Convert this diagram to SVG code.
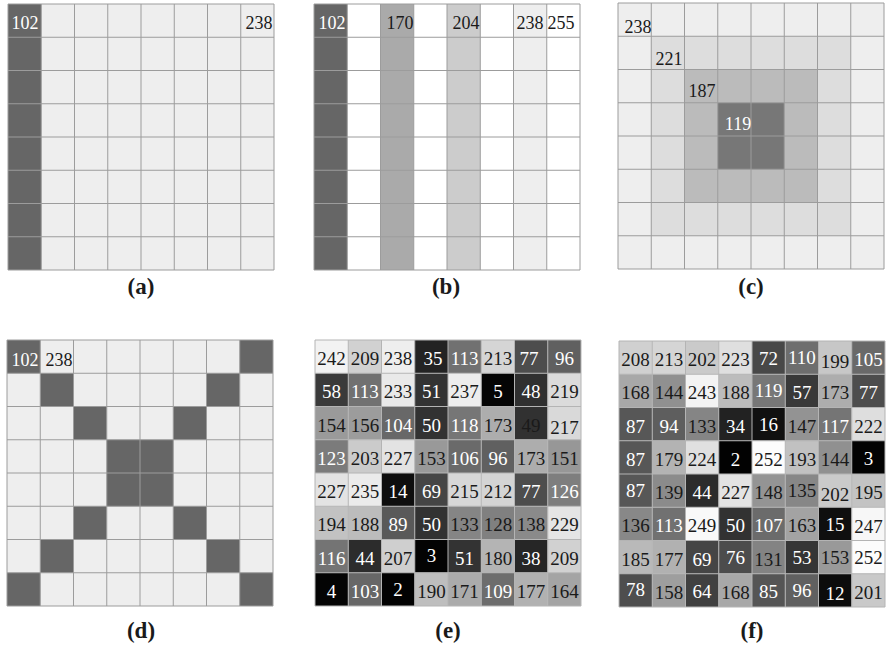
<svg xmlns="http://www.w3.org/2000/svg" xmlns:xlink="http://www.w3.org/1999/xlink" width="889" height="647" viewBox="0 0 889 647">
<style>
.n{font-family:"Liberation Serif","Times New Roman",serif;font-size:19px;text-anchor:middle}
.s{font-size:18px}
.w{fill:#ffffff}
.k{fill:#1a1a1a}
.lbl{font-family:"Liberation Serif","Times New Roman",serif;font-size:23px;font-weight:bold;text-anchor:middle;fill:#1a1a1a}
.g{fill:none;stroke:#9c9c9c;stroke-width:1}
.g2{fill:none;stroke:#b4b4b4;stroke-width:1}
</style>
<defs>
<path id="grid" d="M0 0H266M0 33.25H266M0 66.5H266M0 99.75H266M0 133H266M0 166.25H266M0 199.5H266M0 232.75H266M0 266H266M0 0V266M33.25 0V266M66.5 0V266M99.75 0V266M133 0V266M166.25 0V266M199.5 0V266M232.75 0V266M266 0V266"/>
</defs>
<rect width="889" height="647" fill="#ffffff"/>

<g id="panel-a" transform="translate(8,4)">
<rect width="266" height="266" fill="#eeeeee"/>
<rect width="33.25" height="266" fill="#666666"/>
<use href="#grid" class="g"/>
<text class="n s w" x="17" y="25">102</text>
<text class="n s k" x="251" y="25">238</text>
</g>

<g id="panel-b" transform="translate(314,4)">
<rect width="266" height="266" fill="#ffffff"/>
<rect width="33.25" height="266" fill="#666666"/>
<rect x="66.5" width="33.25" height="266" fill="#aaaaaa"/>
<rect x="133" width="33.25" height="266" fill="#cccccc"/>
<rect x="199.5" width="33.25" height="266" fill="#eeeeee"/>
<use href="#grid" class="g"/>
<text class="n s w" x="18" y="25">102</text>
<text class="n s k" x="86" y="25">170</text>
<text class="n s k" x="152" y="25">204</text>
<text class="n s k" x="216" y="25">238</text>
<text class="n s k" x="247" y="25">255</text>
</g>

<g id="panel-c" transform="translate(618,3)">
<rect width="266" height="266" fill="#eeeeee"/>
<rect x="33.25" y="33.25" width="199.5" height="199.5" fill="#dddddd"/>
<rect x="66.5" y="66.5" width="133" height="133" fill="#bbbbbb"/>
<rect x="99.75" y="99.75" width="66.5" height="66.5" fill="#777777"/>
<use href="#grid" class="g"/>
<text class="n s k" x="20" y="30">238</text>
<text class="n s k" x="51" y="62">221</text>
<text class="n s k" x="84" y="94">187</text>
<text class="n s w" x="120" y="127">119</text>
</g>

<g id="panel-d" transform="translate(7,340)">
<rect width="266" height="266" fill="#eeeeee"/>
<g fill="#666666">
<rect x="0" y="0" width="33.25" height="33.25"/>
<rect x="232.75" y="0" width="33.25" height="33.25"/>
<rect x="33.25" y="33.25" width="33.25" height="33.25"/>
<rect x="199.5" y="33.25" width="33.25" height="33.25"/>
<rect x="66.5" y="66.5" width="33.25" height="33.25"/>
<rect x="166.25" y="66.5" width="33.25" height="33.25"/>
<rect x="99.75" y="99.75" width="66.5" height="66.5"/>
<rect x="66.5" y="166.25" width="33.25" height="33.25"/>
<rect x="166.25" y="166.25" width="33.25" height="33.25"/>
<rect x="33.25" y="199.5" width="33.25" height="33.25"/>
<rect x="199.5" y="199.5" width="33.25" height="33.25"/>
<rect x="0" y="232.75" width="33.25" height="33.25"/>
<rect x="232.75" y="232.75" width="33.25" height="33.25"/>
</g>
<use href="#grid" class="g"/>
<text class="n s w" x="18" y="26">102</text>
<text class="n s k" x="52" y="26">238</text>
</g>

<g id="panel-e" transform="translate(315,340)">
<g>
<rect x="0" y="0" width="33.25" height="33.25" fill="#f2f2f2"/><rect x="33.25" y="0" width="33.25" height="33.25" fill="#d1d1d1"/><rect x="66.5" y="0" width="33.25" height="33.25" fill="#eeeeee"/><rect x="99.75" y="0" width="33.25" height="33.25" fill="#232323"/><rect x="133" y="0" width="33.25" height="33.25" fill="#717171"/><rect x="166.25" y="0" width="33.25" height="33.25" fill="#d5d5d5"/><rect x="199.5" y="0" width="33.25" height="33.25" fill="#4d4d4d"/><rect x="232.75" y="0" width="33.25" height="33.25" fill="#606060"/>
<rect x="0" y="33.25" width="33.25" height="33.25" fill="#3a3a3a"/><rect x="33.25" y="33.25" width="33.25" height="33.25" fill="#717171"/><rect x="66.5" y="33.25" width="33.25" height="33.25" fill="#e9e9e9"/><rect x="99.75" y="33.25" width="33.25" height="33.25" fill="#333333"/><rect x="133" y="33.25" width="33.25" height="33.25" fill="#ededed"/><rect x="166.25" y="33.25" width="33.25" height="33.25" fill="#050505"/><rect x="199.5" y="33.25" width="33.25" height="33.25" fill="#303030"/><rect x="232.75" y="33.25" width="33.25" height="33.25" fill="#dbdbdb"/>
<rect x="0" y="66.5" width="33.25" height="33.25" fill="#9a9a9a"/><rect x="33.25" y="66.5" width="33.25" height="33.25" fill="#9c9c9c"/><rect x="66.5" y="66.5" width="33.25" height="33.25" fill="#686868"/><rect x="99.75" y="66.5" width="33.25" height="33.25" fill="#323232"/><rect x="133" y="66.5" width="33.25" height="33.25" fill="#767676"/><rect x="166.25" y="66.5" width="33.25" height="33.25" fill="#adadad"/><rect x="199.5" y="66.5" width="33.25" height="33.25" fill="#313131"/><rect x="232.75" y="66.5" width="33.25" height="33.25" fill="#d9d9d9"/>
<rect x="0" y="99.75" width="33.25" height="33.25" fill="#7b7b7b"/><rect x="33.25" y="99.75" width="33.25" height="33.25" fill="#cbcbcb"/><rect x="66.5" y="99.75" width="33.25" height="33.25" fill="#e3e3e3"/><rect x="99.75" y="99.75" width="33.25" height="33.25" fill="#999999"/><rect x="133" y="99.75" width="33.25" height="33.25" fill="#6a6a6a"/><rect x="166.25" y="99.75" width="33.25" height="33.25" fill="#606060"/><rect x="199.5" y="99.75" width="33.25" height="33.25" fill="#adadad"/><rect x="232.75" y="99.75" width="33.25" height="33.25" fill="#979797"/>
<rect x="0" y="133" width="33.25" height="33.25" fill="#e3e3e3"/><rect x="33.25" y="133" width="33.25" height="33.25" fill="#ebebeb"/><rect x="66.5" y="133" width="33.25" height="33.25" fill="#0e0e0e"/><rect x="99.75" y="133" width="33.25" height="33.25" fill="#454545"/><rect x="133" y="133" width="33.25" height="33.25" fill="#d7d7d7"/><rect x="166.25" y="133" width="33.25" height="33.25" fill="#d4d4d4"/><rect x="199.5" y="133" width="33.25" height="33.25" fill="#4d4d4d"/><rect x="232.75" y="133" width="33.25" height="33.25" fill="#7e7e7e"/>
<rect x="0" y="166.25" width="33.25" height="33.25" fill="#c2c2c2"/><rect x="33.25" y="166.25" width="33.25" height="33.25" fill="#bcbcbc"/><rect x="66.5" y="166.25" width="33.25" height="33.25" fill="#595959"/><rect x="99.75" y="166.25" width="33.25" height="33.25" fill="#323232"/><rect x="133" y="166.25" width="33.25" height="33.25" fill="#858585"/><rect x="166.25" y="166.25" width="33.25" height="33.25" fill="#808080"/><rect x="199.5" y="166.25" width="33.25" height="33.25" fill="#8a8a8a"/><rect x="232.75" y="166.25" width="33.25" height="33.25" fill="#e5e5e5"/>
<rect x="0" y="199.5" width="33.25" height="33.25" fill="#747474"/><rect x="33.25" y="199.5" width="33.25" height="33.25" fill="#2c2c2c"/><rect x="66.5" y="199.5" width="33.25" height="33.25" fill="#cfcfcf"/><rect x="99.75" y="199.5" width="33.25" height="33.25" fill="#030303"/><rect x="133" y="199.5" width="33.25" height="33.25" fill="#333333"/><rect x="166.25" y="199.5" width="33.25" height="33.25" fill="#b4b4b4"/><rect x="199.5" y="199.5" width="33.25" height="33.25" fill="#262626"/><rect x="232.75" y="199.5" width="33.25" height="33.25" fill="#d1d1d1"/>
<rect x="0" y="232.75" width="33.25" height="33.25" fill="#040404"/><rect x="33.25" y="232.75" width="33.25" height="33.25" fill="#676767"/><rect x="66.5" y="232.75" width="33.25" height="33.25" fill="#020202"/><rect x="99.75" y="232.75" width="33.25" height="33.25" fill="#bebebe"/><rect x="133" y="232.75" width="33.25" height="33.25" fill="#ababab"/><rect x="166.25" y="232.75" width="33.25" height="33.25" fill="#6d6d6d"/><rect x="199.5" y="232.75" width="33.25" height="33.25" fill="#b1b1b1"/><rect x="232.75" y="232.75" width="33.25" height="33.25" fill="#a4a4a4"/>
</g>
<use href="#grid" class="g2"/>
<g class="n">
<text x="16.6" y="25" class="k">242</text><text x="49.9" y="25" class="k">209</text><text x="83.1" y="25" class="k">238</text><text x="118" y="25" class="w">35</text><text x="149.6" y="25" class="w">113</text><text x="182.9" y="25" class="k">213</text><text x="214" y="25" class="w">77</text><text x="249.4" y="25" class="w">96</text>
<text x="16.6" y="58.25" class="w">58</text><text x="49.9" y="58.25" class="w">113</text><text x="83.1" y="58.25" class="k">233</text><text x="116.4" y="58.25" class="w">51</text><text x="149.6" y="58.25" class="k">237</text><text x="182.9" y="58.25" class="w">5</text><text x="216.1" y="58.25" class="w">48</text><text x="249.4" y="58.25" class="k">219</text>
<text x="16.6" y="91.5" class="k">154</text><text x="49.9" y="91.5" class="k">156</text><text x="83.1" y="91.5" class="w">104</text><text x="116.4" y="91.5" class="w">50</text><text x="149.6" y="91.5" class="w">118</text><text x="182.9" y="91.5" class="k">173</text><text x="216.1" y="91.5" class="k">49</text><text x="249.4" y="94" class="k">217</text>
<text x="16.6" y="124.75" class="w">123</text><text x="49.9" y="124.75" class="k">203</text><text x="83.1" y="124.75" class="k">227</text><text x="116.4" y="124.75" class="k">153</text><text x="149.6" y="124.75" class="w">106</text><text x="182.9" y="124.75" class="w">96</text><text x="216.1" y="124.75" class="k">173</text><text x="249.4" y="124.75" class="k">151</text>
<text x="16.6" y="158" class="k">227</text><text x="49.9" y="158" class="k">235</text><text x="83.1" y="158" class="w">14</text><text x="116.4" y="158" class="w">69</text><text x="149.6" y="158" class="k">215</text><text x="182.9" y="158" class="k">212</text><text x="216.1" y="158" class="w">77</text><text x="249.4" y="158" class="w">126</text>
<text x="16.6" y="191.25" class="k">194</text><text x="49.9" y="191.25" class="k">188</text><text x="83.1" y="191.25" class="w">89</text><text x="116.4" y="191.25" class="w">50</text><text x="149.6" y="191.25" class="k">133</text><text x="182.9" y="191.25" class="k">128</text><text x="216.1" y="191.25" class="k">138</text><text x="249.4" y="191.25" class="k">229</text>
<text x="16.6" y="224.5" class="w">116</text><text x="49.9" y="224.5" class="w">44</text><text x="83.1" y="224.5" class="k">207</text><text x="116.4" y="221.5" class="w">3</text><text x="149.6" y="224.5" class="w">51</text><text x="182.9" y="224.5" class="k">180</text><text x="216.1" y="224.5" class="w">38</text><text x="249.4" y="224.5" class="k">209</text>
<text x="16.6" y="257.75" class="w">4</text><text x="49.9" y="257.75" class="w">103</text><text x="83.1" y="255.5" class="w">2</text><text x="116.4" y="257.75" class="k">190</text><text x="149.6" y="257.75" class="k">171</text><text x="182.9" y="257.75" class="w">109</text><text x="216.1" y="257.75" class="k">177</text><text x="249.4" y="257.75" class="k">164</text>
</g>
</g>

<g id="panel-f" transform="translate(619,341)">
<g>
<rect x="0" y="0" width="33.25" height="33.25" fill="#d0d0d0"/><rect x="33.25" y="0" width="33.25" height="33.25" fill="#d5d5d5"/><rect x="66.5" y="0" width="33.25" height="33.25" fill="#cacaca"/><rect x="99.75" y="0" width="33.25" height="33.25" fill="#dfdfdf"/><rect x="133" y="0" width="33.25" height="33.25" fill="#484848"/><rect x="166.25" y="0" width="33.25" height="33.25" fill="#6e6e6e"/><rect x="199.5" y="0" width="33.25" height="33.25" fill="#c7c7c7"/><rect x="232.75" y="0" width="33.25" height="33.25" fill="#696969"/>
<rect x="0" y="33.25" width="33.25" height="33.25" fill="#a8a8a8"/><rect x="33.25" y="33.25" width="33.25" height="33.25" fill="#909090"/><rect x="66.5" y="33.25" width="33.25" height="33.25" fill="#f3f3f3"/><rect x="99.75" y="33.25" width="33.25" height="33.25" fill="#bcbcbc"/><rect x="133" y="33.25" width="33.25" height="33.25" fill="#777777"/><rect x="166.25" y="33.25" width="33.25" height="33.25" fill="#393939"/><rect x="199.5" y="33.25" width="33.25" height="33.25" fill="#adadad"/><rect x="232.75" y="33.25" width="33.25" height="33.25" fill="#4d4d4d"/>
<rect x="0" y="66.5" width="33.25" height="33.25" fill="#575757"/><rect x="33.25" y="66.5" width="33.25" height="33.25" fill="#5e5e5e"/><rect x="66.5" y="66.5" width="33.25" height="33.25" fill="#858585"/><rect x="99.75" y="66.5" width="33.25" height="33.25" fill="#222222"/><rect x="133" y="66.5" width="33.25" height="33.25" fill="#101010"/><rect x="166.25" y="66.5" width="33.25" height="33.25" fill="#939393"/><rect x="199.5" y="66.5" width="33.25" height="33.25" fill="#757575"/><rect x="232.75" y="66.5" width="33.25" height="33.25" fill="#dedede"/>
<rect x="0" y="99.75" width="33.25" height="33.25" fill="#575757"/><rect x="33.25" y="99.75" width="33.25" height="33.25" fill="#b3b3b3"/><rect x="66.5" y="99.75" width="33.25" height="33.25" fill="#e0e0e0"/><rect x="99.75" y="99.75" width="33.25" height="33.25" fill="#020202"/><rect x="133" y="99.75" width="33.25" height="33.25" fill="#fcfcfc"/><rect x="166.25" y="99.75" width="33.25" height="33.25" fill="#c1c1c1"/><rect x="199.5" y="99.75" width="33.25" height="33.25" fill="#909090"/><rect x="232.75" y="99.75" width="33.25" height="33.25" fill="#030303"/>
<rect x="0" y="133" width="33.25" height="33.25" fill="#575757"/><rect x="33.25" y="133" width="33.25" height="33.25" fill="#8b8b8b"/><rect x="66.5" y="133" width="33.25" height="33.25" fill="#2c2c2c"/><rect x="99.75" y="133" width="33.25" height="33.25" fill="#e3e3e3"/><rect x="133" y="133" width="33.25" height="33.25" fill="#949494"/><rect x="166.25" y="133" width="33.25" height="33.25" fill="#878787"/><rect x="199.5" y="133" width="33.25" height="33.25" fill="#cacaca"/><rect x="232.75" y="133" width="33.25" height="33.25" fill="#c3c3c3"/>
<rect x="0" y="166.25" width="33.25" height="33.25" fill="#888888"/><rect x="33.25" y="166.25" width="33.25" height="33.25" fill="#717171"/><rect x="66.5" y="166.25" width="33.25" height="33.25" fill="#f9f9f9"/><rect x="99.75" y="166.25" width="33.25" height="33.25" fill="#323232"/><rect x="133" y="166.25" width="33.25" height="33.25" fill="#6b6b6b"/><rect x="166.25" y="166.25" width="33.25" height="33.25" fill="#a3a3a3"/><rect x="199.5" y="166.25" width="33.25" height="33.25" fill="#0f0f0f"/><rect x="232.75" y="166.25" width="33.25" height="33.25" fill="#f7f7f7"/>
<rect x="0" y="199.5" width="33.25" height="33.25" fill="#b9b9b9"/><rect x="33.25" y="199.5" width="33.25" height="33.25" fill="#b1b1b1"/><rect x="66.5" y="199.5" width="33.25" height="33.25" fill="#454545"/><rect x="99.75" y="199.5" width="33.25" height="33.25" fill="#4c4c4c"/><rect x="133" y="199.5" width="33.25" height="33.25" fill="#838383"/><rect x="166.25" y="199.5" width="33.25" height="33.25" fill="#353535"/><rect x="199.5" y="199.5" width="33.25" height="33.25" fill="#999999"/><rect x="232.75" y="199.5" width="33.25" height="33.25" fill="#fcfcfc"/>
<rect x="0" y="232.75" width="33.25" height="33.25" fill="#4e4e4e"/><rect x="33.25" y="232.75" width="33.25" height="33.25" fill="#9e9e9e"/><rect x="66.5" y="232.75" width="33.25" height="33.25" fill="#404040"/><rect x="99.75" y="232.75" width="33.25" height="33.25" fill="#a8a8a8"/><rect x="133" y="232.75" width="33.25" height="33.25" fill="#555555"/><rect x="166.25" y="232.75" width="33.25" height="33.25" fill="#606060"/><rect x="199.5" y="232.75" width="33.25" height="33.25" fill="#0c0c0c"/><rect x="232.75" y="232.75" width="33.25" height="33.25" fill="#c9c9c9"/>
</g>
<use href="#grid" class="g2"/>
<g class="n">
<text x="16.6" y="25" class="k">208</text><text x="49.9" y="25" class="k">213</text><text x="83.1" y="25" class="k">202</text><text x="116.4" y="25" class="k">223</text><text x="149.6" y="24" class="w">72</text><text x="182.9" y="23" class="w">110</text><text x="216.1" y="27" class="k">199</text><text x="249.4" y="25" class="w">105</text>
<text x="16.6" y="58.25" class="k">168</text><text x="49.9" y="58.25" class="k">144</text><text x="83.1" y="58.25" class="k">243</text><text x="116.4" y="58.25" class="k">188</text><text x="149.6" y="56" class="w">119</text><text x="182.9" y="58.25" class="w">57</text><text x="216.1" y="58.25" class="k">173</text><text x="249.4" y="58.25" class="w">77</text>
<text x="16.6" y="91.5" class="w">87</text><text x="49.9" y="91.5" class="w">94</text><text x="83.1" y="91.5" class="k">133</text><text x="116.4" y="91.5" class="w">34</text><text x="149.6" y="90" class="w">16</text><text x="182.9" y="91.5" class="k">147</text><text x="216.1" y="91.5" class="w">117</text><text x="249.4" y="91.5" class="k">222</text>
<text x="16.6" y="124.75" class="w">87</text><text x="49.9" y="124.75" class="k">179</text><text x="83.1" y="124.75" class="k">224</text><text x="116.4" y="124.75" class="w">2</text><text x="149.6" y="124.75" class="k">252</text><text x="182.9" y="124.75" class="k">193</text><text x="216.1" y="124.75" class="k">144</text><text x="249.4" y="124" class="w">3</text>
<text x="16.6" y="156" class="w">87</text><text x="49.9" y="158" class="k">139</text><text x="83.1" y="158" class="w">44</text><text x="116.4" y="158" class="k">227</text><text x="149.6" y="158" class="k">148</text><text x="182.9" y="156" class="k">135</text><text x="216.1" y="160" class="k">202</text><text x="249.4" y="158" class="k">195</text>
<text x="16.6" y="191.25" class="k">136</text><text x="49.9" y="191.25" class="w">113</text><text x="83.1" y="191.25" class="k">249</text><text x="116.4" y="191.25" class="w">50</text><text x="149.6" y="191.25" class="w">107</text><text x="182.9" y="191.25" class="k">163</text><text x="216.1" y="190" class="w">15</text><text x="249.4" y="192" class="k">247</text>
<text x="16.6" y="224.5" class="k">185</text><text x="49.9" y="224.5" class="k">177</text><text x="83.1" y="224.5" class="w">69</text><text x="116.4" y="223" class="w">76</text><text x="149.6" y="224.5" class="k">131</text><text x="182.9" y="222.5" class="w">53</text><text x="216.1" y="222.5" class="k">153</text><text x="249.4" y="222.5" class="k">252</text>
<text x="16.6" y="254.5" class="w">78</text><text x="49.9" y="257.75" class="k">158</text><text x="83.1" y="256.5" class="w">64</text><text x="116.4" y="257.75" class="k">168</text><text x="149.6" y="256.5" class="w">85</text><text x="182.9" y="256" class="w">96</text><text x="216.1" y="259" class="w">12</text><text x="249.4" y="257.75" class="k">201</text>
</g>
</g>

<g id="labels">
<text class="lbl" x="141" y="294">(a)</text>
<text class="lbl" x="446" y="294">(b)</text>
<text class="lbl" x="751" y="294">(c)</text>
<text class="lbl" x="141" y="638">(d)</text>
<text class="lbl" x="448" y="638">(e)</text>
<text class="lbl" x="752" y="638">(f)</text>
</g>
</svg>
